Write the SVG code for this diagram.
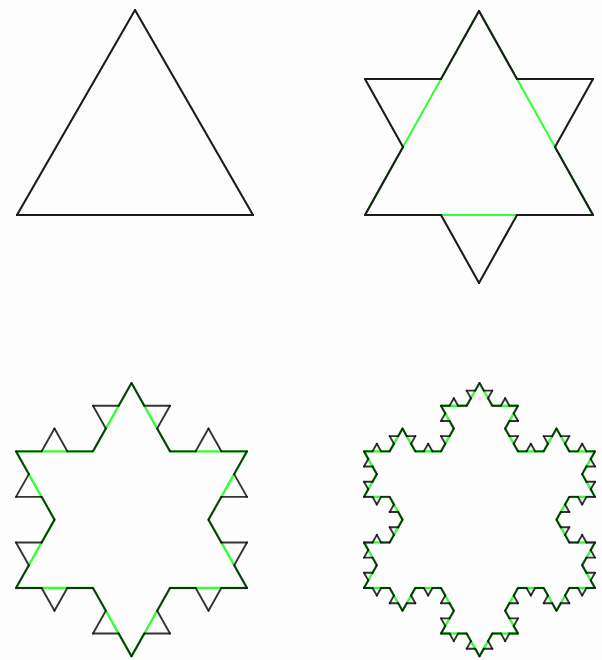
<svg xmlns="http://www.w3.org/2000/svg" xmlns:xlink="http://www.w3.org/1999/xlink" width="602" height="660" viewBox="0 0 602 660">
  <style>
    .k path { vector-effect: non-scaling-stroke; }
    .blk { fill: none; stroke: #1c1c1c; stroke-width: 2.1; stroke-linecap: round; }
    .blk2 { fill: none; stroke: #111; stroke-opacity: 0.85; stroke-width: 1.9; stroke-linecap: round; }
    .grn { fill: none; stroke: #33ff33; stroke-width: 2; stroke-linecap: butt; }
    .grn2 { fill: none; stroke: #33ff33; stroke-width: 2.4; stroke-linecap: butt; }
  </style>
  <defs>
    <g id="k0" class="k"><path d="M0,0 L1,0"/></g>
    <g id="k1">
      <use xlink:href="#k0" transform="scale(0.333333)"/>
      <use xlink:href="#k0" transform="translate(0.333333,0) rotate(-60) scale(0.333333)"/>
      <use xlink:href="#k0" transform="translate(0.5,-0.288675) rotate(60) scale(0.333333)"/>
      <use xlink:href="#k0" transform="translate(0.666667,0) scale(0.333333)"/>
    </g>
    <g id="k2">
      <use xlink:href="#k1" transform="scale(0.333333)"/>
      <use xlink:href="#k1" transform="translate(0.333333,0) rotate(-60) scale(0.333333)"/>
      <use xlink:href="#k1" transform="translate(0.5,-0.288675) rotate(60) scale(0.333333)"/>
      <use xlink:href="#k1" transform="translate(0.666667,0) scale(0.333333)"/>
    </g>
    <g id="k3">
      <use xlink:href="#k2" transform="scale(0.333333)"/>
      <use xlink:href="#k2" transform="translate(0.333333,0) rotate(-60) scale(0.333333)"/>
      <use xlink:href="#k2" transform="translate(0.5,-0.288675) rotate(60) scale(0.333333)"/>
      <use xlink:href="#k2" transform="translate(0.666667,0) scale(0.333333)"/>
    </g>
    <g id="t0">
      <use xlink:href="#k0" transform="rotate(60)"/>
      <use xlink:href="#k0" transform="translate(0.5,0.866025) rotate(180)"/>
      <use xlink:href="#k0" transform="translate(-0.5,0.866025) rotate(-60)"/>
    </g>
    <g id="t1">
      <use xlink:href="#k1" transform="rotate(60)"/>
      <use xlink:href="#k1" transform="translate(0.5,0.866025) rotate(180)"/>
      <use xlink:href="#k1" transform="translate(-0.5,0.866025) rotate(-60)"/>
    </g>
    <g id="t2">
      <use xlink:href="#k2" transform="rotate(60)"/>
      <use xlink:href="#k2" transform="translate(0.5,0.866025) rotate(180)"/>
      <use xlink:href="#k2" transform="translate(-0.5,0.866025) rotate(-60)"/>
    </g>
    <g id="t3">
      <use xlink:href="#k3" transform="rotate(60)"/>
      <use xlink:href="#k3" transform="translate(0.5,0.866025) rotate(180)"/>
      <use xlink:href="#k3" transform="translate(-0.5,0.866025) rotate(-60)"/>
    </g>
  </defs>
  <rect width="602" height="660" fill="#fcfdfc"/>
  <g id="level0" transform="translate(135,10) scale(236,236.71)">
    <use xlink:href="#t0" class="blk"/>
  </g>
  <g id="level1" transform="translate(479,11) scale(228,235.56)">
    <use xlink:href="#t0" class="grn"/>
    <use xlink:href="#t1" class="blk"/>
  </g>
  <g id="level2" transform="translate(131.5,383) scale(231,236.71)">
    <use xlink:href="#t1" class="grn2"/>
    <use xlink:href="#t2" class="blk2"/>
  </g>
  <g id="level3" transform="translate(479.5,383) scale(231,236.71)">
    <use xlink:href="#t2" class="grn2"/>
    <use xlink:href="#t3" class="blk2"/>
  </g>
</svg>
